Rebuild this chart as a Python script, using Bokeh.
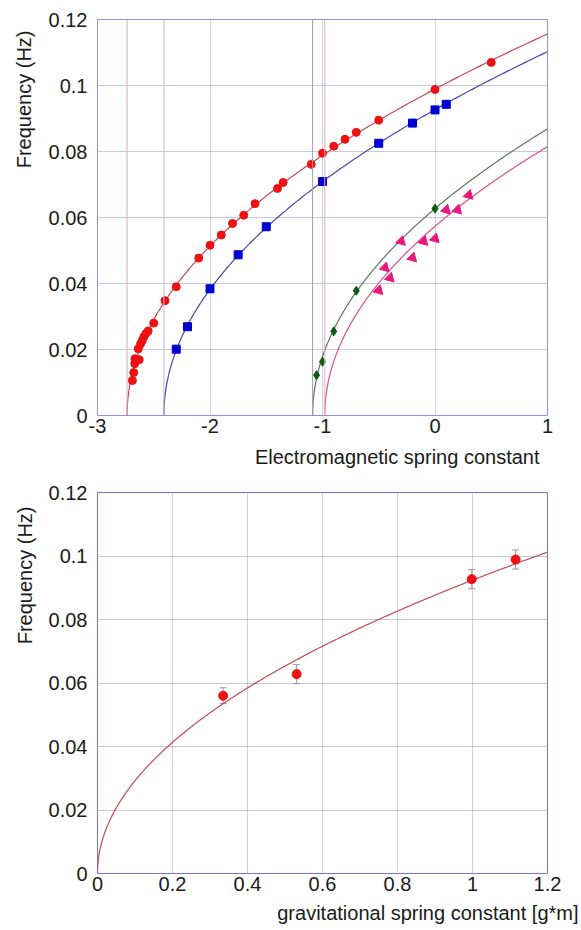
import numpy as np
from bokeh.plotting import figure
from bokeh.layouts import column
from bokeh.models import (Span, FixedTicker, CustomJSTickFormatter, Title,
                          Whisker, ColumnDataSource, TeeHead)
from bokeh.embed import file_html
from bokeh.resources import INLINE

# ---------------- Top chart data ----------------
red_k = [-2.690, -2.678, -2.669, -2.667, -2.646, -2.629, -2.638, -2.617, -2.602,
         -2.588, -2.570, -2.550, -2.500, -2.400, -2.300, -2.100, -2.000, -1.900,
         -1.800, -1.700, -1.600, -1.400, -1.350, -1.100, -1.000, -0.900, -0.800,
         -0.700, -0.500, 0.000, 0.500]
red_f = [0.0106, 0.0130, 0.0157, 0.0172, 0.0169, 0.0169, 0.0202, 0.0217, 0.0227,
         0.0239, 0.0248, 0.0256, 0.0280, 0.0348, 0.0390, 0.0477, 0.0516, 0.0547,
         0.0582, 0.0607, 0.0642, 0.0688, 0.0706, 0.0761, 0.0795, 0.0816, 0.0837,
         0.0858, 0.0895, 0.0988, 0.1070]

blue_k = [-2.30, -2.20, -2.00, -1.75, -1.50, -1.00, -0.50, -0.20, 0.00, 0.10]
blue_f = [0.0201, 0.0269, 0.0384, 0.0487, 0.0572, 0.0709, 0.0825, 0.0886, 0.0926, 0.0943]

green_k = [-1.053, -1.00, -0.90, -0.70, 0.00]
green_f = [0.0122, 0.0163, 0.0255, 0.0378, 0.0627]

magenta_k = [-0.50, -0.445, -0.40, -0.30, -0.20, -0.10, 0.00, 0.10, 0.20, 0.30]
magenta_f = [0.0379, 0.0448, 0.0417, 0.0528, 0.0478, 0.0528, 0.0536, 0.0623, 0.0623, 0.0668]

# fitted curves f = A * sqrt(k - k0)
red_k0, red_A = -2.737, 0.0598
blue_k0, blue_A = -2.41, 0.0597
green_k0, green_A = -1.088, 0.0601
magenta_k0, magenta_A = -0.98, 0.0579

top_xticks = [-3, -2, -1, 0, 1]
top_yticks = [0, 0.02, 0.04, 0.06, 0.08, 0.1, 0.12]

# ---------------- Bottom chart data ----------------
grav_k = [0.335, 0.531, 0.998, 1.115]
grav_f = [0.0560, 0.0628, 0.0927, 0.0989]
grav_err = [0.0025, 0.0030, 0.0030, 0.0030]
grav_A = 0.0924

bot_xticks = [0, 0.2, 0.4, 0.6, 0.8, 1.0, 1.2]
bot_yticks = [0, 0.02, 0.04, 0.06, 0.08, 0.1, 0.12]

FONT = "Liberation Sans"
fmt = CustomJSTickFormatter(code="""
var s = tick.toFixed(2);
if (s.indexOf('.') >= 0) { s = s.replace(/0+$/, '').replace(/\\.$/, ''); }
if (s === '-0') { s = '0'; }
return s;
""")


def style(p, xticks, yticks, outline, hgrid, vgrid):
    p.outline_line_color = outline
    p.outline_line_width = 1
    p.background_fill_color = "white"
    p.border_fill_color = "white"
    for ax in (p.xaxis[0], p.yaxis[0]):
        ax.axis_line_color = None
        ax.major_tick_line_color = None
        ax.minor_tick_line_color = None
        ax.major_tick_out = 0
        ax.major_tick_in = 0
        ax.major_label_text_font = FONT
        ax.major_label_text_font_size = "20px"
        ax.major_label_text_color = "#1a1a1a"
        ax.formatter = fmt
    p.xaxis[0].ticker = FixedTicker(ticks=xticks)
    p.yaxis[0].ticker = FixedTicker(ticks=yticks)
    p.xaxis[0].major_label_standoff = 3
    p.yaxis[0].major_label_standoff = 10
    p.xgrid[0].ticker = FixedTicker(ticks=xticks)
    p.ygrid[0].ticker = FixedTicker(ticks=yticks)
    p.xgrid.grid_line_color = vgrid
    p.xgrid.grid_line_dash = "1 1"
    p.ygrid.grid_line_color = hgrid
    p.ygrid.grid_line_dash = "1 1"


def add_titles(p, xtext, xoffset, xstand, ytext, yoffset, ystand):
    p.add_layout(Title(text=xtext, align="right", offset=xoffset, standoff=xstand,
                       text_font=FONT, text_font_size="20px", text_font_style="normal",
                       text_color="#1a1a1a"), "below")
    p.add_layout(Title(text=ytext, align="right", offset=yoffset, standoff=ystand,
                       text_font=FONT, text_font_size="20px", text_font_style="normal",
                       text_color="#1a1a1a"), "left")


def fit_curve(k0, A, kmax):
    t = np.linspace(0, 1, 500)
    k = k0 + (kmax - k0) * t ** 2
    return k, A * np.sqrt(k - k0)


# ---------------- Top figure ----------------
p1 = figure(width=581, height=476, x_range=(-3, 1), y_range=(0, 0.12),
            output_backend="svg", toolbar_location=None,
            min_border_left=93, min_border_right=32, min_border_top=19, min_border_bottom=61)
style(p1, top_xticks, top_yticks, "#9090dc", "#8c8cd0", "#a4a4bc")

asym = [(red_k0, "#d8a8c8"), (blue_k0, "#b8b8e8"), (green_k0, "#a0a0a0"), (magenta_k0, "#eaa8c8")]
for loc, col in asym:
    p1.add_layout(Span(location=loc, dimension="height", line_color=col, line_width=1))

for k0, A, col in [(red_k0, red_A, "#c44a55"), (blue_k0, blue_A, "#4a4aa4"),
                   (green_k0, green_A, "#5a7a5a"), (magenta_k0, magenta_A, "#d8508c")]:
    ck, cf = fit_curve(k0, A, 1.0)
    p1.line(ck, cf, line_color=col, line_width=1.2)

p1.scatter(red_k, red_f, marker="circle", size=8, fill_color="#ee1111", line_color="#ee1111")
p1.scatter(blue_k, blue_f, marker="square", size=8, fill_color="#0000d0", line_color="#0000d0")
p1.scatter(green_k, green_f, marker="diamond", size=9, fill_color="#0a5a14", line_color="#0a5a14")
p1.scatter(magenta_k, magenta_f, marker="triangle", size=10, angle=-2.356,
           fill_color="#e8187c", line_color="#e8187c")

add_titles(p1, "Electromagnetic spring constant", 8, 16, "Frequency (Hz)", 11, 21)

# ---------------- Bottom figure ----------------
p2 = figure(width=581, height=454, x_range=(0, 1.2), y_range=(0, 0.12),
            output_backend="svg", toolbar_location=None,
            min_border_left=97, min_border_right=34, min_border_top=16, min_border_bottom=56)
style(p2, bot_xticks, bot_yticks, "#7474e4", "#9090cc", "#9c9cd4")

gk, gf = fit_curve(0.0, grav_A, 1.2)
p2.line(gk, gf, line_color="#c44a55", line_width=1.2)

src = ColumnDataSource(dict(
    k=grav_k, f=grav_f,
    lo=[f - e for f, e in zip(grav_f, grav_err)],
    hi=[f + e for f, e in zip(grav_f, grav_err)]))
p2.add_layout(Whisker(source=src, base="k", lower="lo", upper="hi", dimension="height",
                      line_color="#999999", line_width=1,
                      upper_head=TeeHead(size=7, line_color="#999999"),
                      lower_head=TeeHead(size=7, line_color="#999999")))
p2.scatter("k", "f", source=src, marker="circle", size=9, fill_color="#ee1111", line_color="#ee1111")

add_titles(p2, "gravitational spring constant [g*m]", -31, 13, "Frequency (Hz)", 14, 20)

layout = column(p1, p2, spacing=0)
open("out.html", "w").write(file_html(layout, INLINE))
